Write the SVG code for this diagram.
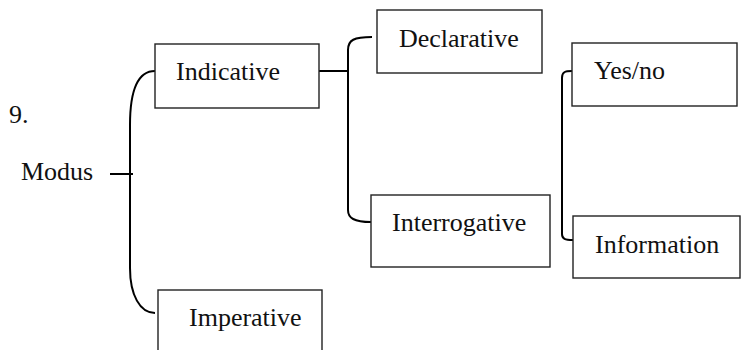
<svg xmlns="http://www.w3.org/2000/svg" width="741" height="350" viewBox="0 0 741 350">
<style>
.box{fill:#fff;stroke:#222;stroke-width:1.4}
.lbl{font-family:'Liberation Serif','DejaVu Serif',serif;font-size:26px;fill:#111}
.con{fill:none;stroke:#000;stroke-width:2}
</style>
<rect width="741" height="350" fill="#fff"/>
<g font-family="Liberation Serif, serif">
<text class="lbl" x="9" y="123">9.</text>
<text class="lbl" x="21" y="180">Modus</text>
</g>
<g id="connectors">
<path class="con" d="M110,174 H133"/>
<path class="con" d="M155,71 C138,71 130,90 130,125 L130,268 C130,295 140,313 155,313"/>
<path class="con" d="M319,71 H348"/>
<path class="con" d="M372,37 C354,37 348,40 348,50 L348,210 C348,218 354,222 371,222"/>
<path class="con" d="M572,71 C565,71 562,72 562,78 L562,234 C562,239 565,240 573,240"/>
</g>
<g id="indicative"><rect class="box" x="155" y="44" width="164" height="64"/><text class="lbl" x="176" y="80">Indicative</text></g>
<g id="declarative"><rect class="box" x="377" y="10" width="165" height="63"/><text class="lbl" x="399" y="47">Declarative</text></g>
<g id="yesno"><rect class="box" x="572" y="43" width="165" height="63"/><text class="lbl" x="594" y="79">Yes/no</text></g>
<g id="interrogative"><rect class="box" x="371" y="195" width="179" height="72"/><text class="lbl" x="392" y="231">Interrogative</text></g>
<g id="information"><rect class="box" x="573" y="216" width="167" height="62"/><text class="lbl" x="595" y="253">Information</text></g>
<g id="imperative"><rect class="box" x="158" y="290" width="164" height="70"/><text class="lbl" x="189" y="326">Imperative</text></g>
</svg>
